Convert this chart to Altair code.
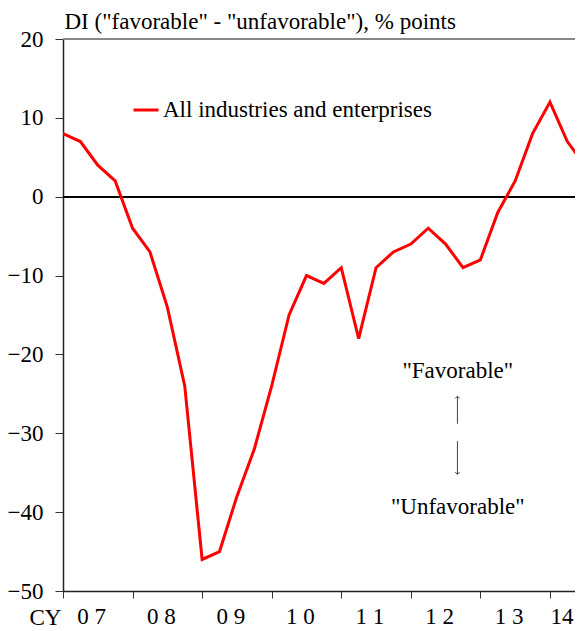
import altair as alt
import pandas as pd

# Quarterly DI values, CY2007 Q1 .. CY2014 Q3
quarters = [
    "2007Q1", "2007Q2", "2007Q3", "2007Q4",
    "2008Q1", "2008Q2", "2008Q3", "2008Q4",
    "2009Q1", "2009Q2", "2009Q3", "2009Q4",
    "2010Q1", "2010Q2", "2010Q3", "2010Q4",
    "2011Q1", "2011Q2", "2011Q3", "2011Q4",
    "2012Q1", "2012Q2", "2012Q3", "2012Q4",
    "2013Q1", "2013Q2", "2013Q3", "2013Q4",
    "2014Q1", "2014Q2", "2014Q3",
]
di_values = [
    8, 7, 4, 2,
    -4, -7, -14, -24,
    -46, -45, -38, -32,
    -24, -15, -10, -11,
    -9, -18, -9, -7,
    -6, -4, -6, -9,
    -8, -2, 2, 8,
    12, 7, 4,
]
series_name = "All industries and enterprises"
year_labels = ["0 7", "0 8", "0 9", "1 0", "1 1", "1 2", "1 3", "14"]
y_ticks = [-50, -40, -30, -20, -10, 0, 10, 20]

FONT = "Liberation Serif"
FS = 23
X_MAX = 29.44

df = pd.DataFrame({
    "quarter": quarters,
    "idx": list(range(len(quarters))),
    "di": di_values,
    "series": [series_name] * len(quarters),
})

x_scale = alt.Scale(domain=[0, X_MAX], nice=False, zero=False)
y_scale = alt.Scale(domain=[-50, 20], nice=False, zero=False)

line = alt.Chart(df).mark_line(color="#FF0000", strokeWidth=3, clip=True).encode(
    x=alt.X("idx:Q", scale=x_scale,
            axis=alt.Axis(values=[4 * i for i in range(len(year_labels))],
                          labels=False, grid=False,
                          title="CY", titleX=-18, titleY=26, titleAlign="center",
                          titleBaseline="middle", titleFont=FONT, titleFontSize=FS,
                          titleFontWeight="normal", titleColor="black",
                          tickSize=7, tickColor="#333", domainColor="#222",
                          domainWidth=1.5)),
    y=alt.Y("di:Q", scale=y_scale,
            axis=alt.Axis(values=y_ticks, grid=False,
                          title='DI ("favorable" - "unfavorable"), % points',
                          titleAngle=0, titleX=1, titleY=-11, titleAlign="left",
                          titleBaseline="alphabetic", titleFont=FONT,
                          titleFontSize=FS, titleFontWeight="normal",
                          titleColor="black", titleLimit=600,
                          tickSize=8, tickColor="#333", domainColor="#222",
                          domainWidth=1.5, labelPadding=12, labelFont=FONT,
                          labelFontSize=FS, labelColor="black")),
    color=alt.Color("series:N",
                    scale=alt.Scale(domain=[series_name], range=["#FF0000"]),
                    legend=alt.Legend(title=None, orient="none", legendX=69, legendY=57,
                                      symbolType="stroke", symbolSize=625,
                                      symbolStrokeWidth=3, labelFont=FONT,
                                      labelFontSize=FS, labelColor="black",
                                      labelOffset=3, labelLimit=500, padding=0)),
)

# year labels placed between the yearly ticks
lab = pd.DataFrame({"t": year_labels, "i": list(range(len(year_labels)))})
year_text = alt.Chart(lab).transform_calculate(
    xpos="min(4 * datum.i + 1.65, %f - 0.75)" % X_MAX
).mark_text(font=FONT, fontSize=FS, color="black", baseline="middle",
            align="center", dy=26).encode(
    x=alt.X("xpos:Q", scale=x_scale),
    y=alt.datum(-50, scale=y_scale),
    text="t:N",
)

top_border = alt.Chart(df).mark_rule(color="#888888", strokeWidth=1.5).encode(
    y=alt.datum(20, scale=y_scale)
)
zero_line = alt.Chart(df).mark_rule(color="black", strokeWidth=1.5).encode(
    y=alt.datum(0, scale=y_scale)
)

ann = pd.DataFrame({
    "x": [22.7, 22.7],
    "y": [-22.1, -39.3],
    "t": ['"Favorable"', '"Unfavorable"'],
})
ann_text = alt.Chart(ann).mark_text(font=FONT, fontSize=FS, color="black",
                                    baseline="middle", align="center").encode(
    x=alt.X("x:Q", scale=x_scale), y=alt.Y("y:Q", scale=y_scale), text="t:N"
)

arrows = pd.DataFrame({
    "x": [22.68, 22.68],
    "y0": [-28.8, -31.0],
    "y1": [-25.3, -35.2],
    "head": ["up", "down"],
})
arrow_shafts = alt.Chart(arrows).mark_rule(color="#444", strokeWidth=1).encode(
    x=alt.X("x:Q", scale=x_scale), y=alt.Y("y0:Q", scale=y_scale), y2="y1:Q"
)
head_up = alt.Chart(arrows[arrows["head"] == "up"]).mark_point(
    shape="M-1,1L0,0L1,1", filled=False, color="#444", size=20, strokeWidth=1, opacity=1
).encode(x=alt.X("x:Q", scale=x_scale), y=alt.Y("y1:Q", scale=y_scale))
head_down = alt.Chart(arrows[arrows["head"] == "down"]).mark_point(
    shape="M-1,-1L0,0L1,-1", filled=False, color="#444", size=20, strokeWidth=1, opacity=1
).encode(x=alt.X("x:Q", scale=x_scale), y=alt.Y("y1:Q", scale=y_scale))

chart = alt.layer(
    top_border, zero_line, line, year_text, ann_text, arrow_shafts, head_up, head_down
).properties(
    width=512, height=552,
    autosize=alt.AutoSizeParams(type="none"),
    padding={"left": 55, "top": 31, "right": 0, "bottom": 40},
).configure_view(stroke=None).configure(background="white")

chart.save("out.html", embed_options={"renderer": "svg", "actions": False})
